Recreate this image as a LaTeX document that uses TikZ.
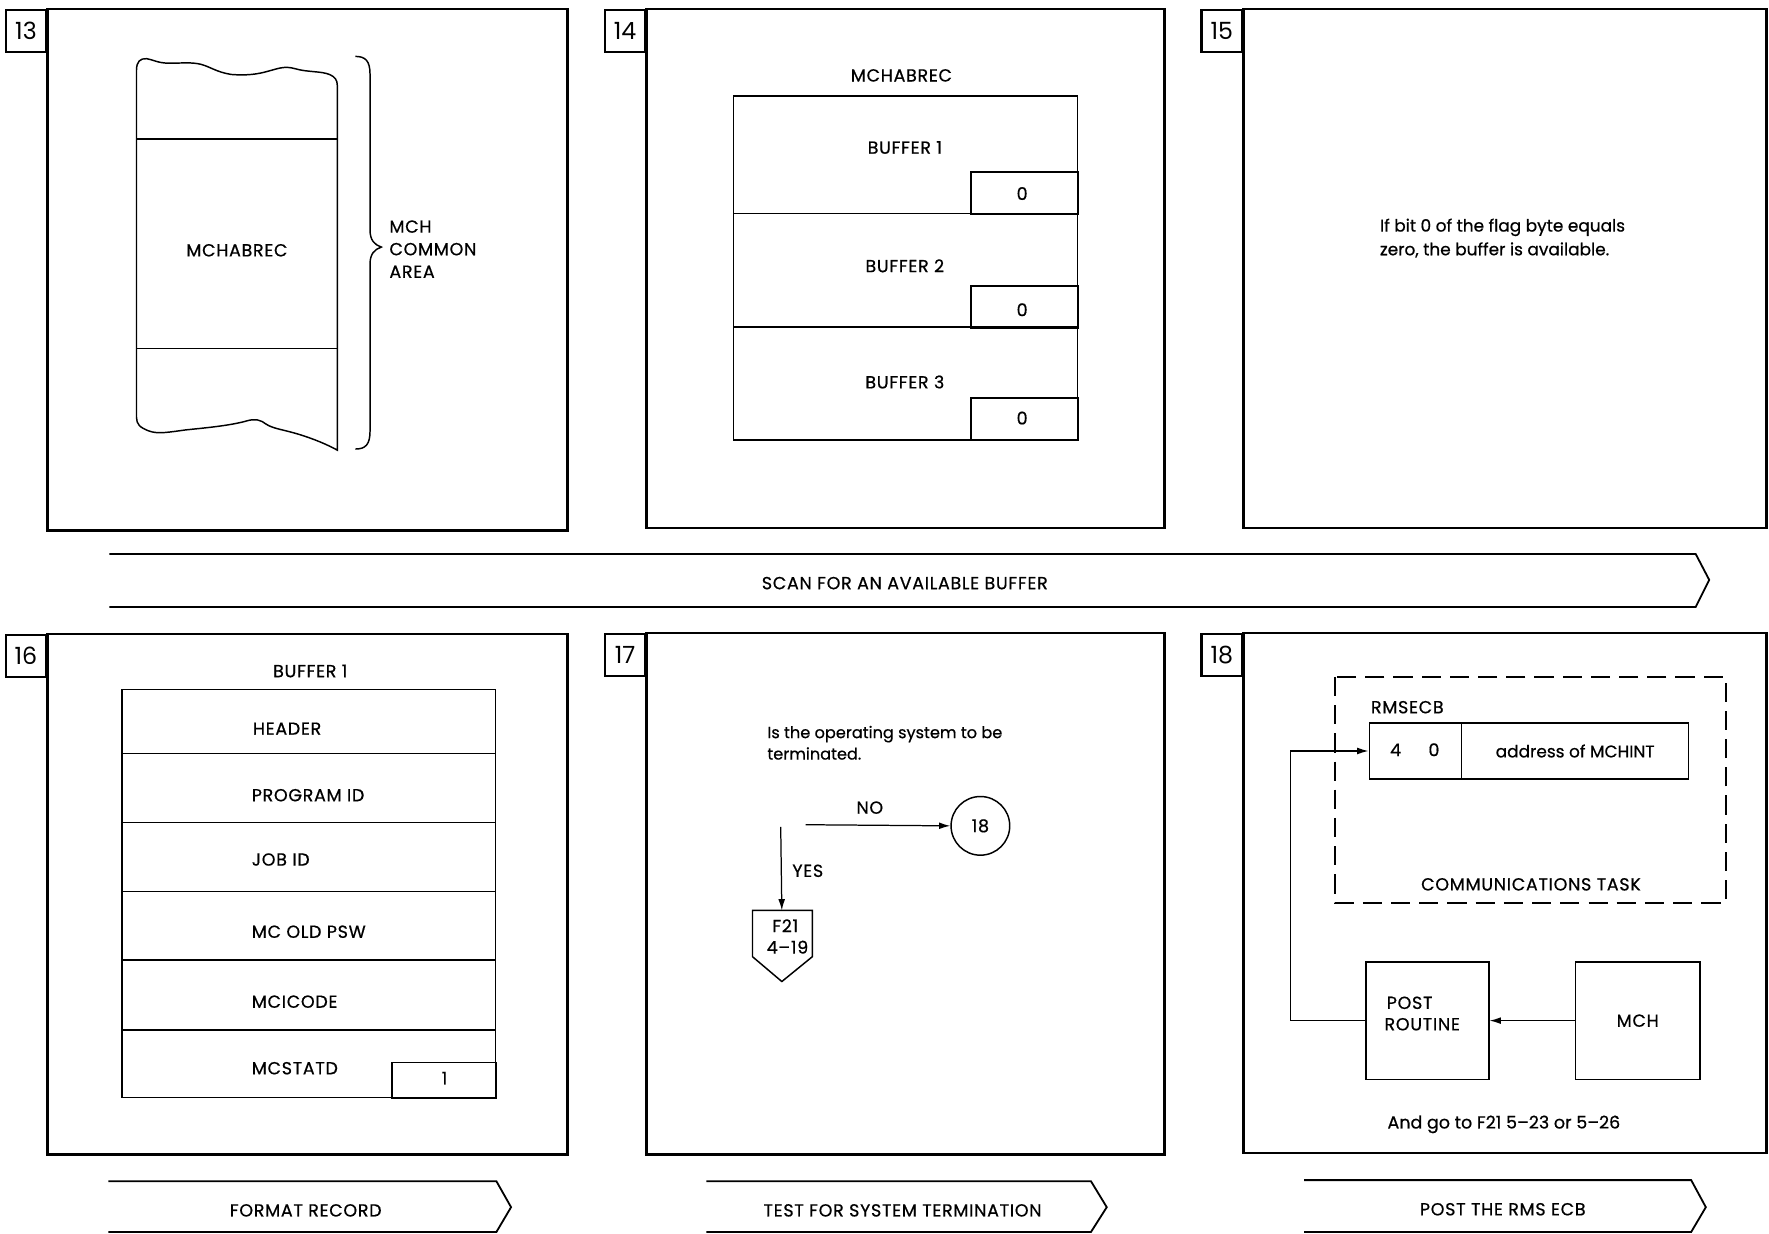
\documentclass[tikz,border=0pt]{standalone}
\usepackage{fontspec}
\setmainfont{Poppins}
\newfontfamily\capsfont{Poppins}[LetterSpace=4, RawFeature={embolden=0.6}]
\newfontfamily\lowfont{Poppins}[RawFeature={embolden=0.6}]
\usetikzlibrary{arrows.meta}
\begin{document}
\begin{tikzpicture}[x=1pt,y=-1pt,
  panelline/.style={line width=2.4pt},
  innerline/.style={line width=1.3pt},
  txt/.style={font=\capsfont\fontsize{15.5}{19}\selectfont, inner sep=0pt, text height=10.5pt, text depth=0pt},
  ltxt/.style={txt, anchor=west},
  lowtxt/.style={font=\lowfont\fontsize{15}{19}\selectfont, inner sep=0pt, text height=10.5pt, text depth=0pt},
  numbox/.style={draw, line width=2pt, minimum width=36pt, minimum height=37pt, inner sep=0pt, font=\fontsize{21}{24}\selectfont, anchor=north east},
  boxnode/.style={draw, innerline, inner sep=0pt, anchor=north west},
  banner/.style={line width=1.6pt},
  arr/.style={-{Latex[length=10pt,width=6pt]}, line width=1.1pt}
]
\useasboundingbox (0,0) rectangle (1568,1093);
\fill[white] (0,0) rectangle (1568,1093);

% ---------------- Panel 13
\draw[panelline] (42,8) rectangle (503,470);
\node[numbox] (n13) at (42,8) {13};
\draw[innerline] (121,62) .. controls (121,55) and (124,51.5) .. (130,52)
  .. controls (136,53) and (140,56) .. (150,56)
  .. controls (162,56) and (170,55) .. (178,57)
  .. controls (186,59) and (192,64) .. (205,66)
  .. controls (218,67) and (228,66) .. (238,63)
  .. controls (246,61) and (252,58) .. (262,61)
  .. controls (272,64) and (285,63) .. (292,66)
  .. controls (297,68) and (299,71) .. (299,76)
  -- (299,399)
  .. controls (290,394) and (278,389) .. (265,385)
  .. controls (252,381) and (242,380) .. (236,376)
  .. controls (231,372) and (226,371) .. (219,373)
  .. controls (205,377) and (185,379) .. (165,381)
  .. controls (150,383) and (140,385) .. (132,382)
  .. controls (124,379) and (121,376) .. (121,370) -- cycle;
\draw[innerline] (121,123) -- (299,123);
\draw[innerline] (121,309) -- (299,309);
\node[txt] (t13) at (210,222) {MCHABREC};
\draw[innerline] (315,50) .. controls (324,50) and (328,54) .. (328,66)
  -- (328,204) .. controls (328,213) and (332,217) .. (338,219)
  .. controls (332,221) and (328,225) .. (328,234)
  -- (328,382) .. controls (328,394) and (324,398) .. (315,398);
\node[ltxt] (mch1) at (345,201) {MCH};
\node[ltxt] (mch2) at (345,221) {COMMON};
\node[ltxt] (mch3) at (345,241) {AREA};

% ---------------- Panel 14
\draw[panelline] (573,8) rectangle (1032,468);
\node[numbox] (n14) at (573,8) {14};
\node[txt] (t14) at (799,67) {MCHABREC};
\draw[innerline] (650,85) rectangle (955,390);
\draw[innerline] (650,189) -- (955,189);
\draw[innerline] (650,290) -- (955,290);
\node[boxnode, minimum width=95pt, minimum height=37pt] (f1) at (860,152) {};
\node[boxnode, minimum width=95pt, minimum height=37pt] (f2) at (860,253) {};
\node[boxnode, minimum width=95pt, minimum height=38pt] (f3) at (860,352) {};
\node[txt] (b1) at (802,131) {BUFFER 1};
\node[txt] (b2) at (802,236) {BUFFER 2};
\node[txt] (b3) at (802,339) {BUFFER 3};
\node[txt] (z1) at (906,172) {0};
\node[txt] (z2) at (906,275) {0};
\node[txt] (z3) at (906,371) {0};

% ---------------- Panel 15
\draw[panelline] (1102,8) rectangle (1566,468);
\node[numbox] (n15) at (1102,8) {15};
\node[lowtxt, anchor=west] (p15a) at (1223,200) {If bit 0 of the flag byte equals};
\node[lowtxt, anchor=west] (p15b) at (1223,221) {zero, the buffer is available.};

% ---------------- Banner 1
\draw[banner] (97,491) -- (1503,491) -- (1515,514) -- (1503,538) -- (97,538);
\node[txt] (s1) at (802,517) {SCAN FOR AN AVAILABLE BUFFER};

% ---------------- Panel 16
\draw[panelline] (42,562) rectangle (503,1023);
\node[numbox] (n16) at (42,562) {16};
\node[txt] (t16) at (275,595) {BUFFER 1};
\draw[innerline] (108,611) rectangle (439,973);
\foreach \yy in {668,729,790,851,913} \draw[innerline] (108,\yy) -- (439,\yy);
\node[boxnode, minimum width=92pt, minimum height=32pt] (one) at (347,941) {};
\node[txt] (onet) at (394,956) {1};
\node[ltxt] (r1) at (224,646) {HEADER};
\node[ltxt] (r2) at (223,705) {PROGRAM ID};
\node[ltxt] (r3) at (223,762) {JOB ID};
\node[ltxt] (r4) at (223,826) {MC OLD PSW};
\node[ltxt] (r5) at (223,888) {MCICODE};
\node[ltxt] (r6) at (223,947) {MCSTATD};

\draw[banner] (96,1047) -- (440,1047) -- (453,1070) -- (440,1092) -- (96,1092);
\node[txt] (s2) at (271,1073) {FORMAT RECORD};

% ---------------- Panel 17
\draw[panelline] (573,561) rectangle (1032,1023);
\node[numbox] (n17) at (573,561) {17};
\node[lowtxt, anchor=west, font=\lowfont\fontsize{14.3}{18}\selectfont] (q1) at (680,649) {Is the operating system to be};
\node[lowtxt, anchor=west, font=\lowfont\fontsize{14.3}{18}\selectfont] (q2) at (680,668) {terminated.};
\coordinate (split) at (692,733);
\coordinate (nostart) at (714,731);
\node[circle, draw, innerline, minimum size=52pt, inner sep=0pt, font=\capsfont\fontsize{15.5}{19}\selectfont] (c18) at (869,732) {18};
\draw[arr] (nostart) -- (c18.west);
\node[txt] (no) at (771,716) {NO};
\coordinate (pentop) at (693,807);
\draw[arr] (split) -- (pentop);
\node[txt] (yes) at (716,772) {YES};
\draw[innerline] (667,807) -- (720,807) -- (720,848) -- (693,870) -- (667,848) -- cycle;
\node[txt] (fa) at (696,821) {F21};
\node[txt] (fb) at (698,840) {4–19};

\draw[banner] (626,1047) -- (967,1047) -- (981,1070) -- (967,1092) -- (626,1092);
\node[txt] (s3) at (800,1073) {TEST FOR SYSTEM TERMINATION};

% ---------------- Panel 18
\draw[panelline] (1102,561) rectangle (1566,1022);
\node[numbox] (n18) at (1102,561) {18};
\draw[line width=1.8pt, dash pattern=on 17pt off 8pt] (1183,600) rectangle (1530,800);
\node[ltxt] (rms) at (1215,627) {RMSECB};
\node[boxnode, minimum width=82pt, minimum height=50pt] (ecbl) at (1213,640) {};
\node[boxnode, minimum width=201pt, minimum height=50pt, font=\lowfont\fontsize{15}{19}\selectfont] (ecbr) at (1295,640) {address of MCHINT};
\node[txt] (four) at (1237,665) {4};
\node[txt] (zero) at (1271,665) {0};
\node[txt] (comm) at (1357,784) {COMMUNICATIONS TASK};
\node[boxnode, minimum width=109pt, minimum height=104pt] (post) at (1210,852) {};
\node[ltxt] (pa) at (1229,889) {POST};
\node[ltxt] (pb) at (1227,908) {ROUTINE};
\node[boxnode, minimum width=110pt, minimum height=104pt, font=\capsfont\fontsize{15.5}{19}\selectfont] (mch) at (1396,852) {MCH};
\draw[arr] (mch.west) -- (post.east);
\draw[arr] (post.west) -- ++(-66,0) |- (ecbl.west);
\node[lowtxt, font=\lowfont\fontsize{15.5}{19}\selectfont] (go) at (1333,995) {And go to F21 5–23 or 5–26};

\draw[banner] (1156,1046) -- (1499,1046) -- (1512,1070) -- (1499,1092) -- (1156,1092);
\node[txt] (s4) at (1332,1072) {POST THE RMS ECB};
\end{tikzpicture}
\end{document}
